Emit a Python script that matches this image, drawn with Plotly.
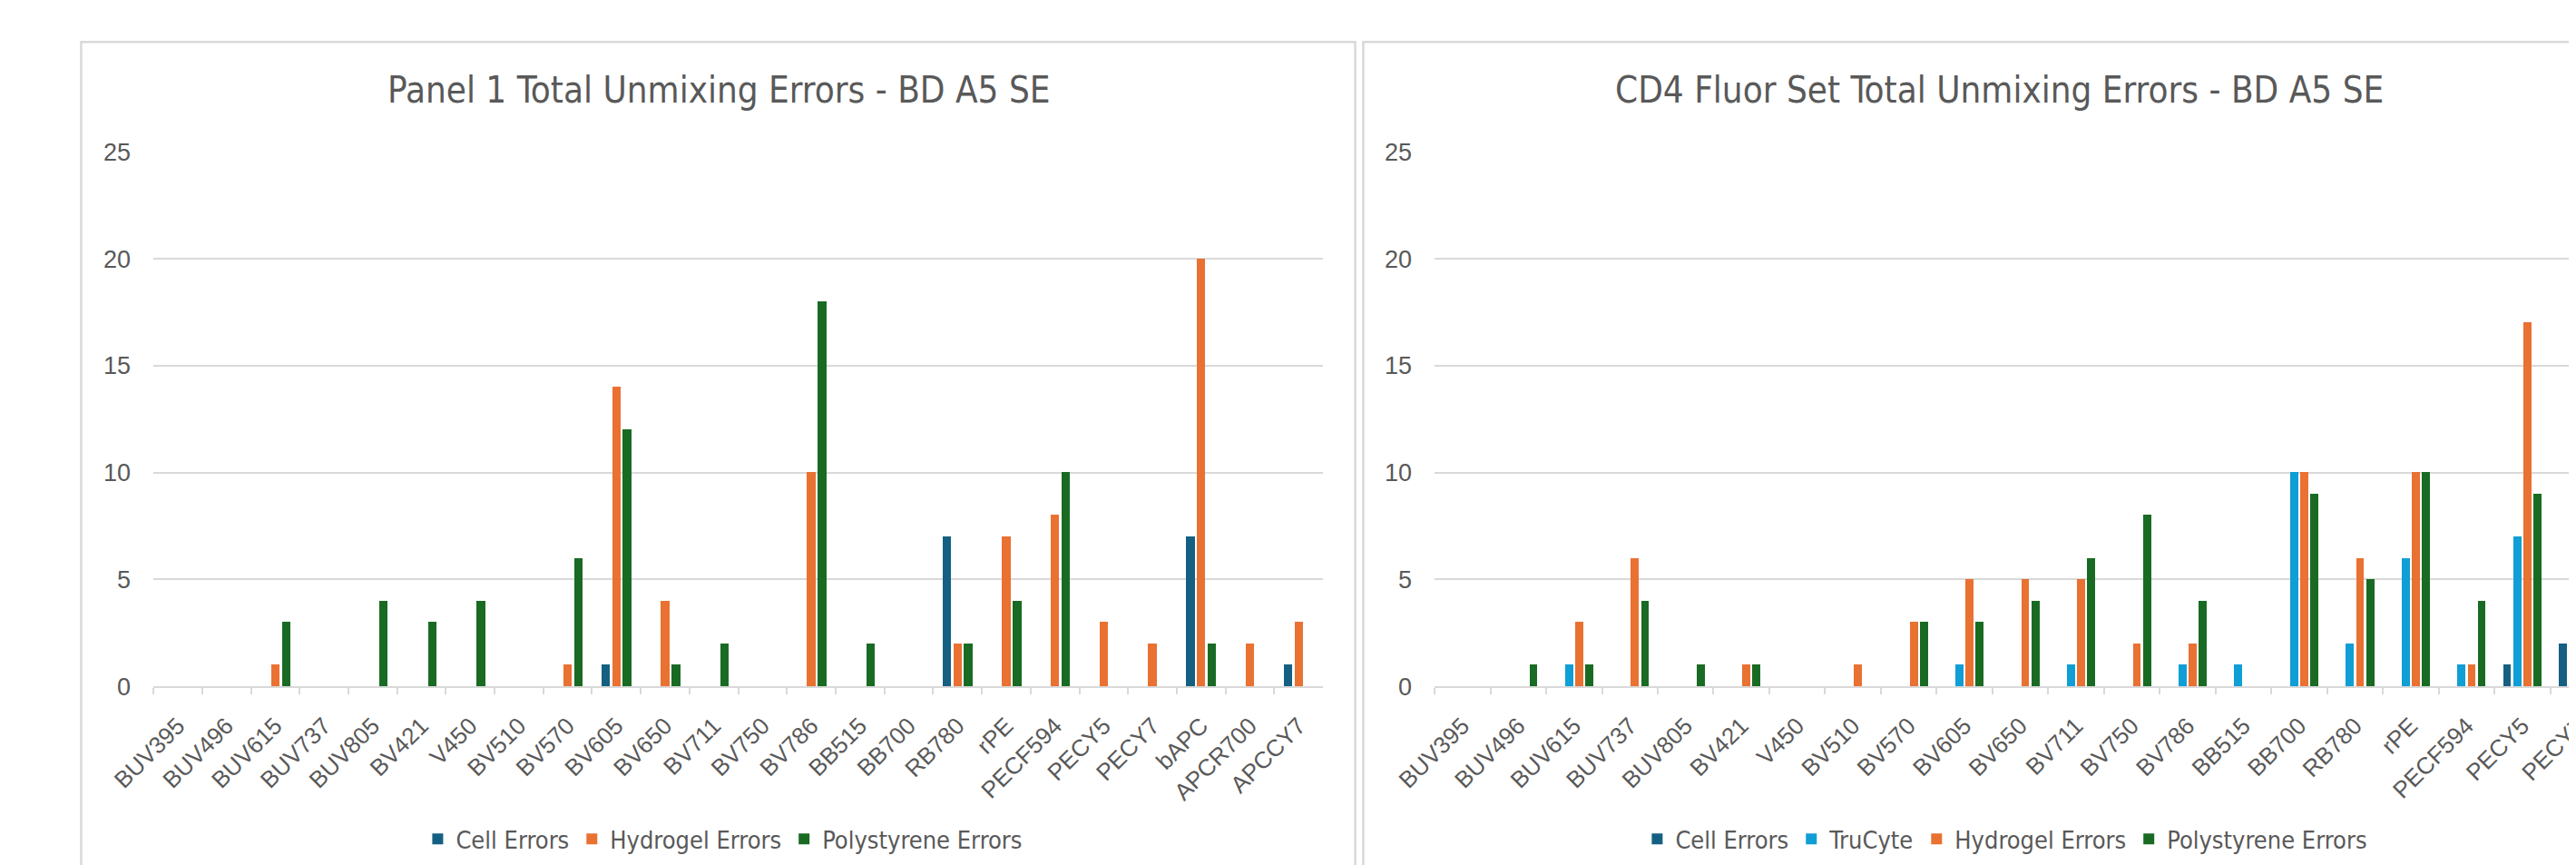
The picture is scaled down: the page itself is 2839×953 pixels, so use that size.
import plotly.graph_objects as go

# ---------------- data ----------------
categories_p1 = ["BUV395", "BUV496", "BUV615", "BUV737", "BUV805", "BV421", "V450", "BV510",
                 "BV570", "BV605", "BV650", "BV711", "BV750", "BV786", "BB515", "BB700",
                 "RB780", "rPE", "PECF594", "PECY5", "PECY7", "bAPC", "APCR700", "APCCY7"]
cell_p1 = [0, 0, 0, 0, 0, 0, 0, 0, 0, 1, 0, 0, 0, 0, 0, 0, 7, 0, 0, 0, 0, 7, 0, 1]
hydrogel_p1 = [0, 0, 1, 0, 0, 0, 0, 0, 1, 14, 4, 0, 0, 10, 0, 0, 2, 7, 8, 3, 2, 20, 2, 3]
polystyrene_p1 = [0, 0, 3, 0, 4, 3, 4, 0, 6, 12, 1, 2, 0, 18, 2, 0, 2, 4, 10, 0, 0, 2, 0, 0]

categories_cd4 = ["BUV395", "BUV496", "BUV615", "BUV737", "BUV805", "BV421", "V450", "BV510",
                  "BV570", "BV605", "BV650", "BV711", "BV750", "BV786", "BB515", "BB700",
                  "RB780", "rPE", "PECF594", "PECY5", "PECY7"]
cell_cd4 = [0, 0, 0, 0, 0, 0, 0, 0, 0, 0, 0, 0, 0, 0, 0, 0, 0, 0, 0, 1, 2]
trucyte_cd4 = [0, 0, 1, 0, 0, 0, 0, 0, 0, 1, 0, 1, 0, 1, 1, 10, 2, 6, 1, 7, 11]
hydrogel_cd4 = [0, 0, 3, 6, 0, 1, 0, 1, 3, 5, 5, 5, 2, 2, 0, 10, 6, 10, 1, 17, None]
polystyrene_cd4 = [0, 1, 1, 4, 1, 1, 0, 0, 3, 3, 4, 6, 8, 4, 0, 9, 5, 10, 4, 9, None]

y_ticks = [0, 5, 10, 15, 20, 25]

title_p1 = "Panel 1 Total Unmixing Errors - BD A5 SE"
title_cd4 = "CD4 Fluor Set Total Unmixing Errors - BD A5 SE"

# ---------------- style ----------------
C_CELL = "#156082"
C_TRU = "#0F9ED5"
C_HYD = "#E97132"
C_POLY = "#196B24"
GRID = "#D9D9D9"
TXT = "#595959"
NARROW = ("Liberation Sans Narrow, Arial Narrow, Noto Sans Condensed, Noto Sans SemiCondensed, "
          "DejaVu Sans Condensed, Roboto Condensed, Liberation Sans, sans-serif")
REG = "Liberation Sans, Arial, sans-serif"

OFF = 8          # page body margin
W, H = 2930, 953


def px(x):
    return (x - OFF) / W


def py(y):
    return 1 - (y - OFF) / H


def bar_geom(n, gap=2.19, overlap=-0.27):
    # Excel-like clustered column geometry, in category units
    b = 1.0 / (n + (n - 1) * (-overlap) + gap)
    pitch = b * (1 - overlap)
    geo = []
    for i in range(n):
        c = (i - (n - 1) / 2) * pitch
        geo.append((b, c - b / 2))
    return geo


fig = go.Figure()

g1 = bar_geom(3)
for (name, vals, col), (w, o) in zip(
        [("Cell Errors", cell_p1, C_CELL), ("Hydrogel Errors", hydrogel_p1, C_HYD),
         ("Polystyrene Errors", polystyrene_p1, C_POLY)], g1):
    fig.add_trace(go.Bar(x=categories_p1, y=vals, name=name, marker_color=col,
                         marker_line_width=0, width=w, offset=o,
                         xaxis="x", yaxis="y", legend="legend"))

g2 = bar_geom(4)
for (name, vals, col), (w, o) in zip(
        [("Cell Errors", cell_cd4, C_CELL), ("TruCyte", trucyte_cd4, C_TRU),
         ("Hydrogel Errors", hydrogel_cd4, C_HYD), ("Polystyrene Errors", polystyrene_cd4, C_POLY)], g2):
    fig.add_trace(go.Bar(x=categories_cd4, y=vals, name=name, marker_color=col,
                         marker_line_width=0, width=w, offset=o,
                         xaxis="x2", yaxis="y2", legend="legend2"))

xcommon = dict(type="category", showline=True, linecolor=GRID, linewidth=2,
               ticks="outside", tickson="boundaries", ticklen=7, tickwidth=2, tickcolor=GRID,
               tickangle=-45, tickfont=dict(family=REG, size=26, color=TXT),
               showgrid=False, zeroline=False, fixedrange=True, ticklabelstandoff=16)
ycommon = dict(range=[0, 25], tickvals=y_ticks, showgrid=True, gridcolor=GRID, gridwidth=2,
               zeroline=False, showline=False, ticks="", fixedrange=True,
               tickfont=dict(family=REG, size=27, color=TXT), ticklabelstandoff=24,
               domain=[py(765), py(157)])

fig.update_layout(
    width=W, height=H, margin=dict(l=0, r=0, t=0, b=0),
    paper_bgcolor="white", plot_bgcolor="white",
    barmode="overlay", bargap=0,
    xaxis=dict(domain=[px(122), px(1433)], range=[-0.5, len(categories_p1) - 0.5], anchor="y", **xcommon),
    yaxis=dict(anchor="x", **ycommon),
    xaxis2=dict(domain=[px(1558), px(2871)], range=[-0.5, len(categories_cd4) - 0.5], anchor="y2", **xcommon),
    yaxis2=dict(anchor="x2", **ycommon),
    legend=dict(orientation="h", x=px(761), y=py(939), xanchor="center", yanchor="middle",
                font=dict(family=NARROW, size=27, color=TXT), bgcolor="rgba(0,0,0,0)"),
    legend2=dict(orientation="h", x=px(2198), y=py(939), xanchor="center", yanchor="middle",
                 font=dict(family=NARROW, size=27, color=TXT), bgcolor="rgba(0,0,0,0)"),
    showlegend=True,
    shapes=[
        dict(type="rect", xref="paper", yref="paper", x0=px(41), x1=px(1469), y0=-0.2, y1=py(32),
             line=dict(color=GRID, width=2.5), fillcolor="rgba(0,0,0,0)", layer="below"),
        dict(type="rect", xref="paper", yref="paper", x0=px(1478), x1=px(2907), y0=-0.2, y1=py(32),
             line=dict(color=GRID, width=2.5), fillcolor="rgba(0,0,0,0)", layer="below"),
    ],
    annotations=[
        dict(text=title_p1, xref="paper", yref="paper", x=px(756), y=py(86), xanchor="center",
             yanchor="middle", showarrow=False, font=dict(family=NARROW, size=40, color=TXT)),
        dict(text=title_cd4, xref="paper", yref="paper", x=px(2191), y=py(86), xanchor="center",
             yanchor="middle", showarrow=False, font=dict(family=NARROW, size=40, color=TXT)),
    ],
)

fig.write_html("out.html")
